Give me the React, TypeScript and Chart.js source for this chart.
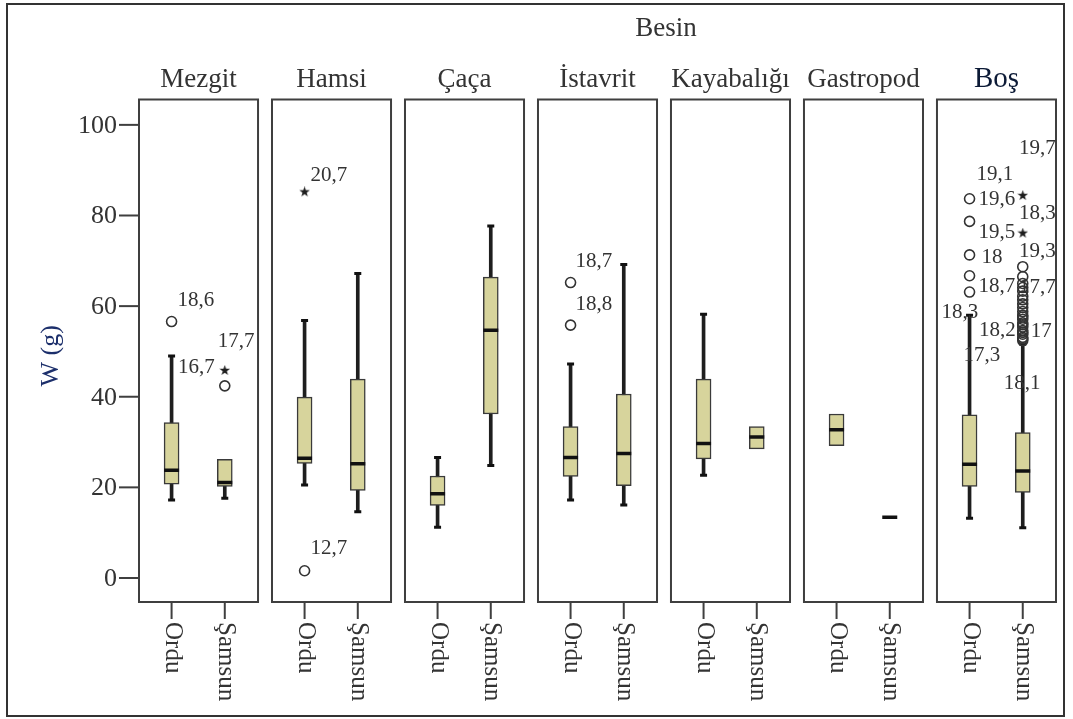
import React, { useEffect, useRef } from "react";
import { Chart, registerables } from "chart.js";

Chart.register(...registerables);

// ---------- data ----------
const CATEGORIES = ["Mezgit", "Hamsi", "Çaça", "İstavrit", "Kayabalığı", "Gastropod", "Boş"];
const GROUPS = ["Ordu", "Şamsun"];
const Y_TICKS = [0, 20, 40, 60, 80, 100];
const Y_TITLE = "W (g)";
const SUPER_TITLE = "Besin";

const ORDU_LOW = [17.2, 20.5, 11.2, 17.2, 22.7, 29.2, 13.2];
const ORDU_Q1 = [20.7, 25.3, 16.0, 22.4, 26.3, 29.2, 20.2];
const ORDU_MED = [23.8, 26.4, 18.6, 26.6, 29.7, 32.7, 25.1];
const ORDU_Q3 = [34.3, 39.9, 22.5, 33.4, 43.9, 36.2, 36.0];
const ORDU_HIGH = [49.0, 56.8, 26.6, 47.2, 58.2, 36.2, 58.0];

const SAMSUN_LOW = [17.6, 14.6, 24.8, 16.1, 28.5, 13.4, 11.1];
const SAMSUN_Q1 = [20.2, 19.3, 36.2, 20.4, 28.5, 13.4, 18.9];
const SAMSUN_MED = [21.1, 25.2, 54.7, 27.5, 31.1, 13.4, 23.6];
const SAMSUN_Q3 = [26.2, 43.9, 66.4, 40.6, 33.4, 13.4, 32.1];
const SAMSUN_HIGH = [26.2, 67.2, 77.7, 69.2, 33.4, 13.4, 51.6];

// outliers: panel index, group index (0 Ordu, 1 Samsun), value, kind ("o" circle, "*" extreme)
const OUTLIER_PANEL = [0, 0, 0, 1, 1, 3, 3, 6, 6, 6, 6, 6, 6, 6, 6, 6, 6, 6, 6, 6, 6, 6, 6, 6, 6, 6, 6, 6, 6, 6, 6, 6, 6, 6, 6, 6];
const OUTLIER_GROUP = [0, 1, 1, 0, 0, 0, 0, 0, 0, 0, 0, 0, 1, 1, 1, 1, 1, 1, 1, 1, 1, 1, 1, 1, 1, 1, 1, 1, 1, 1, 1, 1, 1, 1, 1, 1];
const OUTLIER_VALUE = [
  56.6, 45.8, 42.4, 85.2, 1.6, 65.2, 55.8,
  83.7, 78.7, 71.3, 66.7, 63.1,
  84.4, 76.1,
  68.7, 66.5, 65.0, 64.1, 63.3, 62.2, 61.4, 60.5, 59.7, 58.8, 58.0, 57.1, 56.3, 55.4, 54.6, 53.8, 53.1, 52.4,
  57.6, 55.9, 54.2, 52.8,
];
const OUTLIER_KIND = [
  "o", "*", "o", "*", "o", "o", "o",
  "o", "o", "o", "o", "o",
  "*", "*",
  "o", "o", "o", "o", "o", "o", "o", "o", "o", "o", "o", "o", "o", "o", "o", "o", "o", "o",
  "o", "o", "o", "o",
];

// case labels attached to outliers
const LABEL_TEXT = ["18,6", "17,7", "16,7", "20,7", "12,7", "18,7", "18,8", "19,1", "19,6", "19,5", "18", "18,7", "18,3", "17,3", "19,7", "18,3", "19,3", "17,7", "18,2", "17", "18,1"];
const LABEL_ANCHOR = [0, 1, 2, 3, 4, 5, 6, 7, 7, 8, 9, 10, 11, 11, 12, 12, 13, 14, 31, 31, 31];

// ---------- layout / style ----------
const PANEL_W = 0.895;
const GROUP_OFFSET = [0.245, 0.645];
const LABEL_OFFSET: [number, number, CanvasTextAlign][] = [
  [6, -21, "left"], [-7, -29, "left"], [-10, -18, "right"], [6, -16, "left"], [6, -22, "left"],
  [5, -21, "left"], [5, -21, "left"], [7, -24, "left"], [9, 1, "left"], [9, 11, "left"],
  [12, 3, "left"], [9, 11, "left"], [-28, 20, "left"], [-6, 63, "left"], [33, -47, "right"],
  [33, 18, "right"], [33, 18, "right"], [33, 21, "right"], [-7, -10, "right"], [8, -9, "left"], [-19, 43, "left"],
];
const SERIF = '"Liberation Serif", "Times New Roman", serif';
const BOX_FILL = "#d7d49c";
const LINE_DARK = "#1e1e1e";
const FRAME = "#3f3f3f";
const TEXT = "#333333";

function makeStar(size: number, color: string) {
  const c = document.createElement("canvas");
  c.width = size;
  c.height = size;
  const g = c.getContext("2d")!;
  const cx = size / 2, cy = size / 2, ro = size / 2, ri = size * 0.2;
  g.beginPath();
  for (let k = 0; k < 10; k++) {
    const r = k % 2 === 0 ? ro : ri;
    const a = -Math.PI / 2 + (k * Math.PI) / 5;
    const px = cx + r * Math.cos(a), py = cy + r * Math.sin(a);
    if (k === 0) g.moveTo(px, py); else g.lineTo(px, py);
  }
  g.closePath();
  g.fillStyle = color;
  g.fill();
  return c;
}

function drawText(ctx: CanvasRenderingContext2D, s: string, x: number, y: number, font: string, color: string,
  align: CanvasTextAlign = "center", baseline: CanvasTextBaseline = "alphabetic", rot = 0) {
  ctx.save();
  ctx.translate(x, y);
  ctx.rotate(rot);
  ctx.font = font;
  ctx.fillStyle = color;
  ctx.textAlign = align;
  ctx.textBaseline = baseline;
  ctx.fillText(s, 0, 0);
  ctx.restore();
}

const decorPlugin = {
  id: "panelDecor",
  beforeDatasetsDraw(chart: any) {
    const { ctx, chartArea } = chart;
    const xs = chart.scales.x, ys = chart.scales.y;
    const { top, bottom, left } = chartArea;
    ctx.save();
    // outer frame
    ctx.strokeStyle = "#333";
    ctx.lineWidth = 2;
    ctx.strokeRect(7, 4, chart.width - 16, chart.height - 7);
    // panel frames
    ctx.strokeStyle = FRAME;
    ctx.lineWidth = 2;
    for (let i = 0; i < CATEGORIES.length; i++) {
      const x0 = xs.getPixelForValue(i), x1 = xs.getPixelForValue(i + PANEL_W);
      ctx.strokeRect(x0, top, x1 - x0, bottom - top);
    }
    // y ticks
    for (const v of Y_TICKS) {
      const y = ys.getPixelForValue(v);
      ctx.beginPath();
      ctx.moveTo(left - 20, y);
      ctx.lineTo(left, y);
      ctx.stroke();
    }
    // x ticks
    for (let i = 0; i < CATEGORIES.length; i++) {
      for (let g = 0; g < GROUPS.length; g++) {
        const x = xs.getPixelForValue(i + GROUP_OFFSET[g]);
        ctx.beginPath();
        ctx.moveTo(x, bottom);
        ctx.lineTo(x, bottom + 17);
        ctx.stroke();
      }
    }
    ctx.restore();
  },
  afterDraw(chart: any) {
    const { ctx, chartArea } = chart;
    const xs = chart.scales.x, ys = chart.scales.y;
    const { top, bottom, left } = chartArea;
    // y tick labels
    for (const v of Y_TICKS) {
      drawText(ctx, String(v), left - 22, ys.getPixelForValue(v) + 1, `26px ${SERIF}`, TEXT, "right", "middle");
    }
    // y title
    drawText(ctx, Y_TITLE, left - 88, (top + bottom) / 2 + 5, `26px ${SERIF}`, "#1c2f6b", "center", "middle", -Math.PI / 2);
    // super title
    drawText(ctx, SUPER_TITLE, left + 527, 36, `27px ${SERIF}`, TEXT, "center");
    // panel titles
    for (let i = 0; i < CATEGORIES.length; i++) {
      const cx = xs.getPixelForValue(i + PANEL_W / 2);
      const last = i === CATEGORIES.length - 1;
      drawText(ctx, CATEGORIES[i], cx, top - 13, `${last ? 29 : 27}px ${SERIF}`, last ? "#0c1a36" : TEXT, "center");
      for (let g = 0; g < GROUPS.length; g++) {
        const x = xs.getPixelForValue(i + GROUP_OFFSET[g]);
        drawText(ctx, GROUPS[g], x + 1, bottom + 20, `25px ${SERIF}`, TEXT, "left", "middle", Math.PI / 2);
      }
    }
    // outlier case labels
    for (let k = 0; k < LABEL_TEXT.length; k++) {
      const a = LABEL_ANCHOR[k];
      const px = xs.getPixelForValue(OUTLIER_PANEL[a] + GROUP_OFFSET[OUTLIER_GROUP[a]]);
      const py = ys.getPixelForValue(OUTLIER_VALUE[a]);
      const [dx, dy, al] = LABEL_OFFSET[k];
      drawText(ctx, LABEL_TEXT[k], px + dx, py + dy, `21px ${SERIF}`, TEXT, al, "middle");
    }
  },
};

export default function App() {
  const ref = useRef<HTMLCanvasElement>(null);

  useEffect(() => {
    if (!ref.current) return;
    const stats = [
      { low: ORDU_LOW, q1: ORDU_Q1, med: ORDU_MED, q3: ORDU_Q3, high: ORDU_HIGH },
      { low: SAMSUN_LOW, q1: SAMSUN_Q1, med: SAMSUN_MED, q3: SAMSUN_Q3, high: SAMSUN_HIGH },
    ];
    const whiskers: any[] = [], boxes: any[] = [], medians: any[] = [], caps: any[] = [];
    for (let i = 0; i < CATEGORIES.length; i++) {
      for (let g = 0; g < GROUPS.length; g++) {
        const s = stats[g];
        const x = i + GROUP_OFFSET[g];
        if (s.low[i] < s.q1[i] || s.high[i] > s.q3[i]) whiskers.push({ x, y: [s.low[i], s.high[i]] });
        if (s.q3[i] > s.q1[i]) boxes.push({ x, y: [s.q1[i], s.q3[i]] });
        medians.push({ x, y: s.med[i] });
        if (s.low[i] < s.q1[i]) caps.push({ x, y: s.low[i] });
        if (s.high[i] > s.q3[i]) caps.push({ x, y: s.high[i] });
      }
    }
    const circles: any[] = [], stars: any[] = [];
    for (let k = 0; k < OUTLIER_VALUE.length; k++) {
      const p = { x: OUTLIER_PANEL[k] + GROUP_OFFSET[OUTLIER_GROUP[k]], y: OUTLIER_VALUE[k] };
      if (OUTLIER_KIND[k] === "*") stars.push(p); else circles.push(p);
    }
    const star = makeStar(11, "#1e1e1e");

    const chart = new Chart(ref.current, {
      type: "bar",
      data: {
        datasets: [
          { type: "bar", data: whiskers, backgroundColor: LINE_DARK, borderWidth: 0, barThickness: 3, grouped: false, order: 10 } as any,
          { type: "bar", data: boxes, backgroundColor: BOX_FILL, borderColor: "#3a3a3a", borderWidth: 1.5, borderSkipped: false, barThickness: 15, grouped: false, order: 9 } as any,
          { type: "scatter", data: medians, pointStyle: "line", radius: 7.5, borderWidth: 3.5, borderColor: "#111", order: 5 } as any,
          { type: "scatter", data: caps, pointStyle: "line", radius: 3.5, borderWidth: 3, borderColor: "#111", order: 5 } as any,
          { type: "scatter", data: circles, pointStyle: "circle", radius: 5, borderWidth: 1.6, borderColor: "#333", backgroundColor: "rgba(0,0,0,0)", order: 2 } as any,
          { type: "scatter", data: stars, pointStyle: star, radius: 6, order: 1 } as any,
        ],
      },
      options: {
        animation: false,
        responsive: false,
        events: [],
        layout: { padding: { left: 139, top: 99.5, right: 17, bottom: 117 } },
        plugins: { legend: { display: false }, tooltip: { enabled: false } },
        scales: {
          x: { type: "linear", min: 0, max: 6.895, display: false, offset: false },
          y: { type: "linear", min: -5.3, max: 105.6, display: false },
        },
      } as any,
      plugins: [decorPlugin],
    });
    return () => chart.destroy();
  }, []);

  return (
    <div style={{ position: "absolute", left: 0, top: 0, width: 1073, height: 719, background: "#fff" }}>
      <canvas ref={ref} width={1073} height={719} />
    </div>
  );
}
